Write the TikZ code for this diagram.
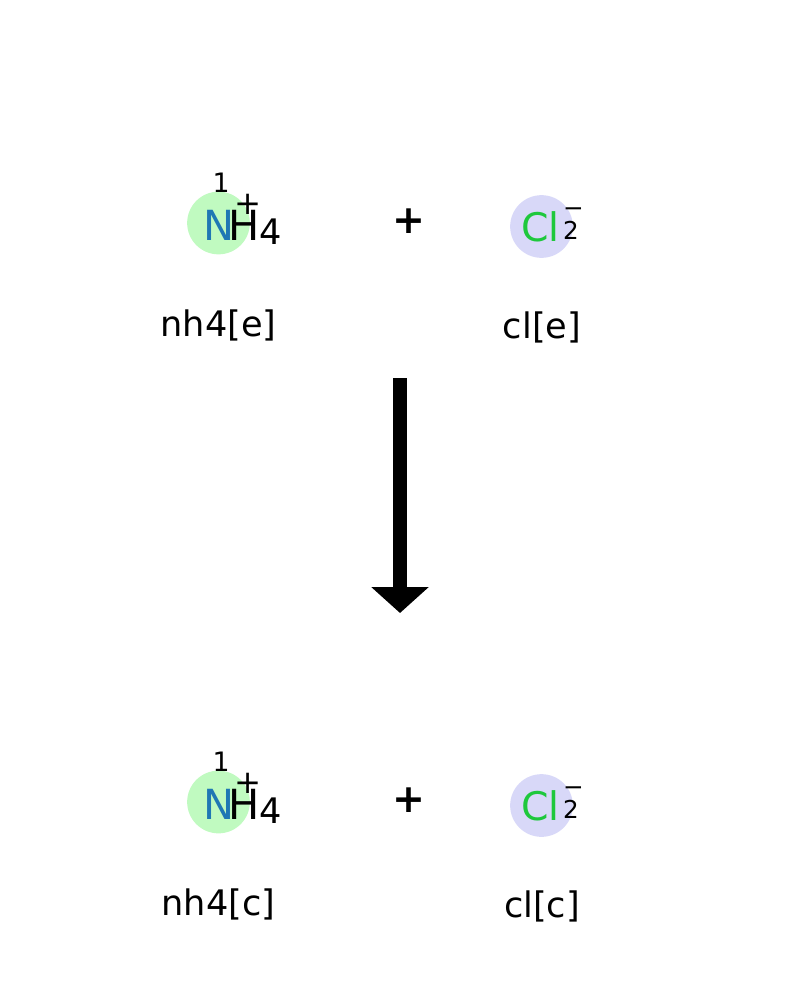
\documentclass[tikz,border=0pt]{standalone}
\usepackage{fontspec}
\usepackage{xcolor}
\setmainfont{DejaVu Sans}
\usetikzlibrary{arrows.meta}

\definecolor{ringNH}{RGB}{192,250,192}
\definecolor{ringCl}{RGB}{216,216,248}
\definecolor{atomN}{RGB}{31,119,180}
\definecolor{atomCl}{RGB}{30,200,60}

\begin{document}
\begin{tikzpicture}[x=0.025cm, y=-0.025cm,
        ring/.style={circle, inner sep=0pt, minimum size=44.6pt},
        elem/.style={inner sep=0pt, font=\fontsize{29.5}{29.5}\selectfont},
        subidx/.style={inner sep=0pt, font=\fontsize{25}{25}\selectfont},
        charge/.style={inner sep=0pt, font=\fontsize{17.5}{17.5}\selectfont},
        addsign/.style={inner sep=0pt, font=\fontsize{28}{28}\selectfont\bfseries},
        speclabel/.style={inner sep=0pt, font=\fontsize{25}{25}\selectfont}
    ]
        \useasboundingbox (0,0) rectangle (800,1000);

        \foreach \y/\c in {223/e, 802/c}{
            % ammonium
            \node[ring, fill=ringNH] (nh\c) at (218.5,\y) {};
            \node[elem, text=atomN] (n\c) at (219,{\y+2}) {N};
            \node[elem] (h\c) at (244,{\y+2}) {H};
            \node[subidx] (four\c) at (271,{\y+8.5}) {4};
            \node[inner sep=0pt, font=\fontsize{19}{19}\selectfont] (one\c) at (221,{\y-40}) {1};
            \node[inner sep=0pt, font=\fontsize{23}{23}\selectfont] (pos\c) at (248,{\y-19}) {+};
            % plus sign
            \node[addsign] (add\c) at (408.5,{\y-1.5}) {+};
            % chloride
            \node[ring, fill=ringCl] (cl\c) at (541.5,{\y+3.5}) {};
            \node[elem, font=\fontsize{28}{28}\selectfont, text=atomCl] (clt\c) at (540.5,{\y+3.5}) {Cl};
            \node[charge] (two\c) at (571,{\y+7}) {2};
            \node[charge] (neg\c) at (573.5,{\y-11}) {−};
            % labels
            \node[speclabel] (lnh\c) at (218.5,{\y+102}) {nh4[\c]};
            \node[speclabel] (lcl\c) at (542,{\y+104.5}) {cl[\c]};
        }

        \coordinate (from) at (400,378);
        \coordinate (to) at (400,613);
        \draw[line width=10.6pt, -{Triangle[width=39.7pt, length=18.4pt]}] (from) -- (to);
    \end{tikzpicture}
\end{document}
